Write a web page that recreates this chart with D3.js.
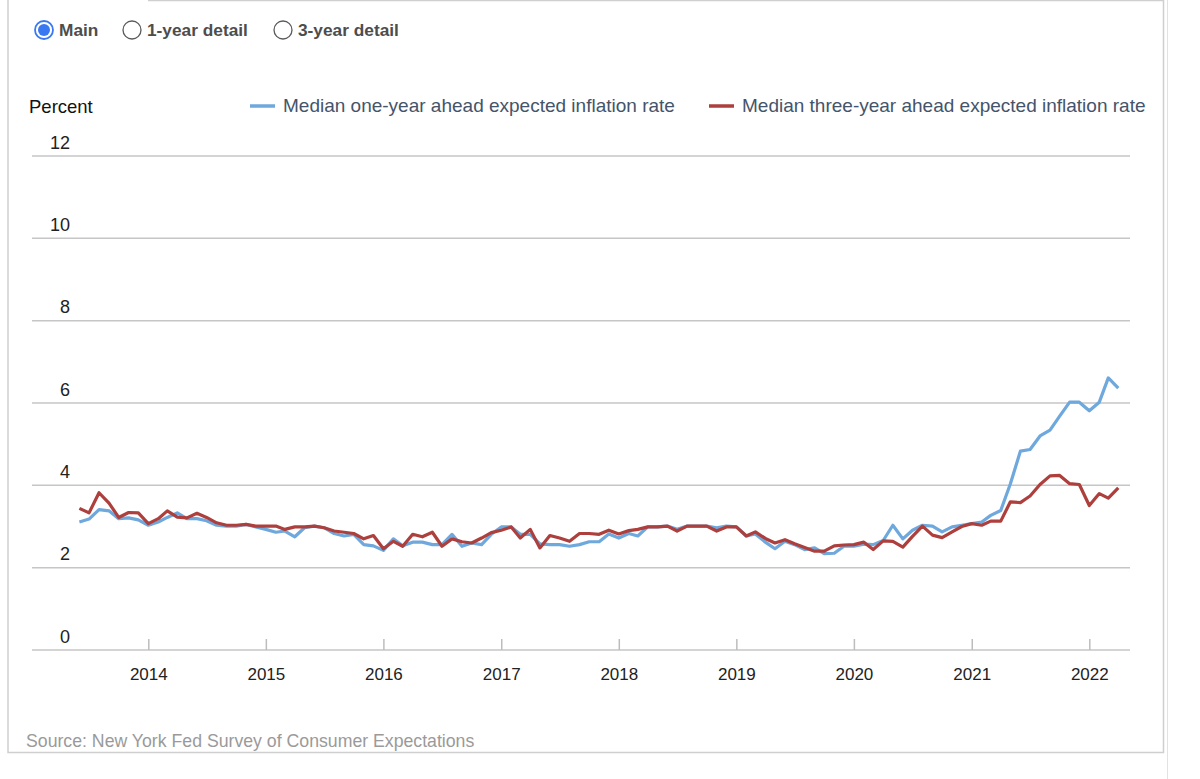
<!DOCTYPE html>
<html>
<head>
<meta charset="utf-8">
<script src="https://cdn.jsdelivr.net/npm/d3@7"></script>
<style>
  body { margin: 0; background: #fff; }
  text { font-family: "Liberation Sans", Arial, sans-serif; }
</style>
</head>
<body>
<div id="chart"></div>
<script>
// monthly survey values, June 2013 - April 2022
const startMonth = [2013, 5];

const oneYear = [
  3.11, 3.18, 3.41, 3.38, 3.19, 3.21, 3.16,
  3.03, 3.11, 3.22, 3.33, 3.19, 3.19, 3.14, 3.03, 3.01, 3.01, 3.05, 2.99,
  2.93, 2.86, 2.89, 2.75, 2.97, 3.01, 2.97, 2.83, 2.77, 2.81, 2.56, 2.53,
  2.42, 2.70, 2.53, 2.62, 2.62, 2.56, 2.56, 2.81, 2.52, 2.60, 2.56, 2.81,
  2.99, 2.99, 2.81, 2.81, 2.58, 2.56, 2.56, 2.52, 2.56, 2.63, 2.63, 2.82,
  2.72, 2.83, 2.77, 2.99, 2.99, 3.01, 2.93, 3.01, 3.01, 3.01, 2.97, 3.01,
  2.99, 2.77, 2.82, 2.62, 2.46, 2.64, 2.56, 2.44, 2.48, 2.34, 2.35, 2.52,
  2.52, 2.57, 2.56, 2.66, 3.03, 2.70, 2.91, 3.03, 3.01, 2.87, 2.99, 3.03,
  3.07, 3.11, 3.27, 3.39, 4.04, 4.83, 4.87, 5.20, 5.34, 5.68, 6.02, 6.02,
  5.81, 6.02, 6.61, 6.36
];

const threeYear = [
  3.44, 3.33, 3.82, 3.57, 3.22, 3.34, 3.33,
  3.07, 3.19, 3.38, 3.23, 3.21, 3.32, 3.22, 3.09, 3.03, 3.03, 3.05, 3.01,
  3.01, 3.01, 2.93, 2.99, 2.99, 3.01, 2.97, 2.89, 2.86, 2.83, 2.70, 2.78,
  2.46, 2.64, 2.52, 2.81, 2.75, 2.86, 2.52, 2.70, 2.63, 2.60, 2.72, 2.85,
  2.91, 2.99, 2.72, 2.93, 2.48, 2.78, 2.72, 2.64, 2.83, 2.83, 2.81, 2.91,
  2.82, 2.90, 2.93, 2.99, 2.99, 3.01, 2.89, 3.01, 3.01, 3.01, 2.89, 2.99,
  2.99, 2.77, 2.87, 2.71, 2.60, 2.68, 2.58, 2.49, 2.40, 2.40, 2.53, 2.55,
  2.56, 2.62, 2.44, 2.65, 2.64, 2.50, 2.76, 3.01, 2.79, 2.73, 2.87, 3.00,
  3.07, 3.03, 3.13, 3.13, 3.60, 3.58, 3.74, 4.02, 4.23, 4.24, 4.04, 4.02,
  3.51, 3.80, 3.69, 3.94
];

const yearTicks = [2014, 2015, 2016, 2017, 2018, 2019, 2020, 2021, 2022];
const yTicks = [0, 2, 4, 6, 8, 10, 12];

const seriesNames = [
  "Median one-year ahead expected inflation rate",
  "Median three-year ahead expected inflation rate"
];
const seriesColors = ["#6ea8dc", "#ad3f3c"];

const radioLabels = ["Main", "1-year detail", "3-year detail"];

const months = oneYear.map((d, i) => new Date(startMonth[0], startMonth[1] + i, 1));

const svg = d3.select("#chart")
  .append("svg")
  .attr("width", 1200)
  .attr("height", 779);

// frame
svg.append("path")
  .attr("d", "M8,0V752.5H1163.5V0M148,0.5H1163.5")
  .attr("fill", "none")
  .attr("stroke", "#cfcfcf")
  .attr("stroke-width", 1.5);
svg.append("line")
  .attr("x1", 1167.5).attr("x2", 1167.5)
  .attr("y1", 0).attr("y2", 779)
  .attr("stroke", "#e2e2e2");

// radio buttons
const radioX = [44, 132, 283];
radioLabels.forEach((label, i) => {
  const g = svg.append("g").attr("transform", `translate(${radioX[i]},30)`);
  if (i === 0) {
    g.append("circle").attr("r", 9).attr("fill", "#fff")
      .attr("stroke", "#3a78f2").attr("stroke-width", 1.8);
    g.append("circle").attr("r", 6).attr("fill", "#3a78f2");
  } else {
    g.append("circle").attr("r", 9).attr("fill", "#fff")
      .attr("stroke", "#5a5a5a").attr("stroke-width", 1.3);
  }
  g.append("text")
    .attr("x", 15)
    .attr("y", 6)
    .attr("font-size", 17.3)
    .attr("font-weight", "bold")
    .attr("fill", "#4d4d4d")
    .text(label);
});

const x = d3.scaleTime()
  .domain([new Date(2014, 0, 1), new Date(2022, 0, 1)])
  .range([148.3, 1089.3]);

const y = d3.scaleLinear()
  .domain([0, 12])
  .range([650, 156]);

// gridlines + y labels
svg.append("g")
  .selectAll("line")
  .data(yTicks)
  .join("line")
  .attr("x1", 32)
  .attr("x2", 1130)
  .attr("y1", (d) => y(d))
  .attr("y2", (d) => y(d))
  .attr("stroke", "#c6c6c6")
  .attr("stroke-width", 1.5);

svg.append("g")
  .selectAll("text")
  .data(yTicks)
  .join("text")
  .attr("x", 70)
  .attr("y", (d) => y(d) - 7.5)
  .attr("text-anchor", "end")
  .attr("font-size", 18)
  .attr("fill", "#222")
  .text((d) => d);

svg.append("text")
  .attr("x", 29)
  .attr("y", 113)
  .attr("font-size", 18.5)
  .attr("fill", "#111")
  .text("Percent");

// x axis
const xAxis = svg.append("g")
  .attr("transform", `translate(0,${y(0)})`)
  .call(
    d3.axisBottom(x)
      .tickValues(yearTicks.map((d) => new Date(d, 0, 1)))
      .tickFormat(d3.timeFormat("%Y"))
      .tickSizeInner(-11)
      .tickSizeOuter(0)
      .tickPadding(18)
  );
xAxis.select(".domain").remove();
xAxis.selectAll(".tick line").attr("stroke", "#bdbdbd").attr("stroke-width", 1.5);
xAxis.selectAll(".tick text")
  .attr("font-size", 17)
  .attr("font-family", "Liberation Sans, Arial, sans-serif")
  .attr("fill", "#222");

// lines
const line = d3.line()
  .x((d) => x(d[0]))
  .y((d) => y(d[1]));

[oneYear, threeYear].forEach((vals, i) => {
  svg.append("path")
    .datum(months.map((m, j) => [m, vals[j]]))
    .attr("d", line)
    .attr("fill", "none")
    .attr("stroke", seriesColors[i])
    .attr("stroke-width", 3.2)
    .attr("stroke-linejoin", "round");
});

// legend
const legendX = [250, 709];
seriesNames.forEach((name, i) => {
  svg.append("line")
    .attr("x1", legendX[i]).attr("x2", legendX[i] + 25)
    .attr("y1", 106).attr("y2", 106)
    .attr("stroke", seriesColors[i])
    .attr("stroke-width", 3.5);
  svg.append("text")
    .attr("x", legendX[i] + 33)
    .attr("y", 112)
    .attr("font-size", 19)
    .attr("fill", "#44546a")
    .text(name);
});

svg.append("text")
  .attr("x", 26)
  .attr("y", 747)
  .attr("font-size", 17.7)
  .attr("fill", "#9a9a9a")
  .text("Source: New York Fed Survey of Consumer Expectations");
</script>
</body>
</html>
